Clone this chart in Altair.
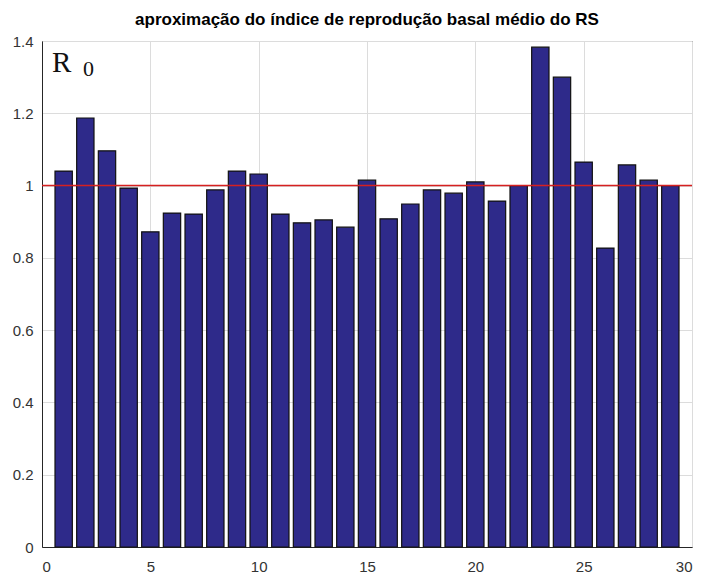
import altair as alt
import pandas as pd

idx = list(range(1, 30))
r0 = [1.040, 1.187, 1.096, 0.993, 0.872, 0.924, 0.921, 0.988, 1.040, 1.032,
      0.921, 0.897, 0.905, 0.885, 1.015, 0.908, 0.949, 0.988, 0.979, 1.010,
      0.957, 1.000, 1.383, 1.300, 1.065, 0.827, 1.057, 1.015, 1.000]
x_ticks = [0, 5, 10, 15, 20, 25, 30]
y_ticks = [0, 0.2, 0.4, 0.6, 0.8, 1.0, 1.2, 1.4]
threshold = 1.0

df = pd.DataFrame({"i": idx, "r0": r0})

xs = alt.Scale(domain=[0, 30], nice=False, zero=False)
ys = alt.Scale(domain=[0, 1.4], nice=False)

axis_x = alt.Axis(values=x_ticks, grid=True, gridColor="#dcdcdc", labelFontSize=15,
                  labelColor="#333333", labelFont="Liberation Sans", title=None,
                  tickSize=0, labelPadding=12, domain=True, domainColor="#262626")
axis_y = alt.Axis(values=y_ticks, grid=True, gridColor="#dcdcdc", labelFontSize=15,
                  labelColor="#333333", labelFont="Liberation Sans", title=None,
                  tickSize=0, labelPadding=9, domain=True, domainColor="#262626",
                  labelExpr="datum.value == 1 ? '1' : datum.value == 0 ? '0' : format(datum.value, '.1f')")

bars = alt.Chart(df).mark_bar(color="#2e2a8a", stroke="#111111", strokeWidth=1.2).transform_calculate(
    x0="datum.i - 0.4", x1="datum.i + 0.4"
).encode(
    x=alt.X("x0:Q", scale=xs, axis=axis_x),
    x2="x1:Q",
    y=alt.Y("r0:Q", scale=ys, axis=axis_y),
    y2=alt.datum(0),
)

rule = alt.Chart(pd.DataFrame({"t": [threshold]})).mark_rule(color="#d62020", strokeWidth=1.5).encode(
    y=alt.Y("t:Q", scale=ys)
)

label = alt.Chart(pd.DataFrame({"a": [1]})).mark_text(
    text="R", font="Liberation Serif", fontSize=29, color="#111111", align="left", baseline="alphabetic"
).encode(x=alt.value(10), y=alt.value(31))
sub = alt.Chart(pd.DataFrame({"a": [1]})).mark_text(
    text="0", font="Liberation Serif", fontSize=22, color="#111111", align="left", baseline="alphabetic"
).encode(x=alt.value(41), y=alt.value(35))

chart = alt.layer(bars, rule, label, sub).properties(
    width=650, height=506,
    autosize=alt.AutoSizeParams(type="none"),
    padding={"left": 34, "top": 33, "right": 4, "bottom": 29},
    title=alt.TitleParams("aproximação do índice de reprodução basal médio do RS",
                          font="Liberation Sans", fontSize=17, fontWeight="bold",
                          color="#000000", offset=5, anchor="middle"),
).configure_view(stroke="#262626", strokeWidth=1)

chart.save("out.html", embed_options={"renderer": "svg", "actions": False})
